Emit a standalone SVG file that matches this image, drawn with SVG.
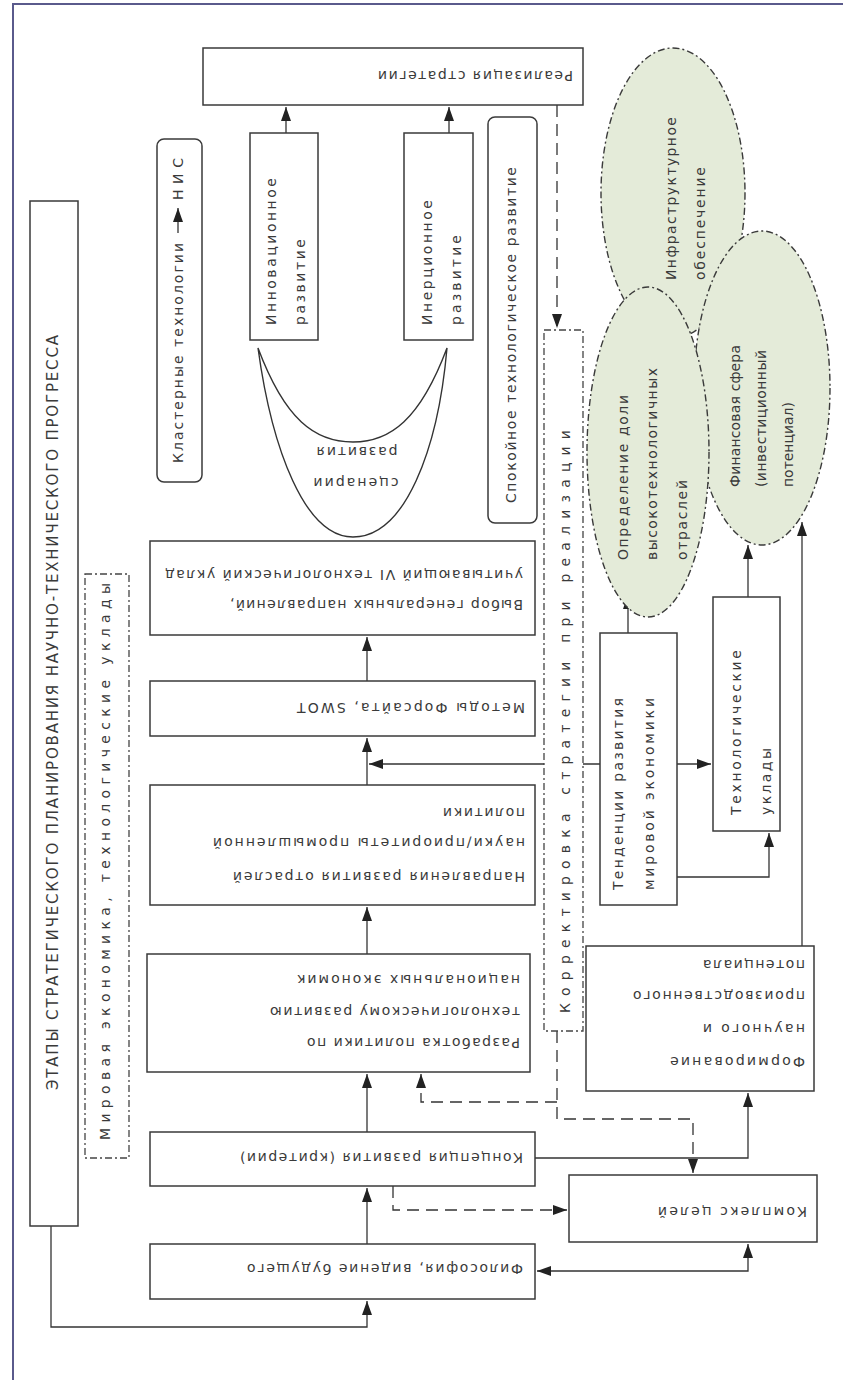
<svg xmlns="http://www.w3.org/2000/svg" width="843" height="1380" viewBox="0 0 843 1380">
<style>
.box{fill:#fff;stroke:#3a3a3a;stroke-width:1.5}
.dd{fill:#fff;stroke:#444;stroke-width:1.3;stroke-dasharray:7 3 2 3}
.ell{fill:#e4ebd9;stroke:#3a3a3a;stroke-width:1.4;stroke-dasharray:7 3 2 3}
.ln{fill:none;stroke:#333;stroke-width:1.3}
.dash{fill:none;stroke:#333;stroke-width:1.3;stroke-dasharray:12 7}
text{font-family:"DejaVu Sans","Liberation Sans",sans-serif;font-size:14px;fill:#3a3a3a;dominant-baseline:central}
.title{font-size:15px}
</style>
<defs>
<marker id="arr" markerUnits="userSpaceOnUse" markerWidth="14" markerHeight="10" refX="14" refY="5" orient="auto-start-reverse">
<path d="M0,0 L14,5 L0,10 z" fill="#222"/>
</marker>
</defs>
<rect width="843" height="1380" fill="#fff"/>
<path d="M13,1380 V4 H843" fill="none" stroke="#5a5a8c" stroke-width="2"/>

<g id="connectors">
<path class="ln" d="M51,1226 V1327 H367 V1301" marker-end="url(#arr)"/>
<path class="ln" d="M367,1244 V1188" marker-end="url(#arr)"/>
<path class="ln" d="M367,1132 V1074" marker-end="url(#arr)"/>
<path class="ln" d="M367,954 V907" marker-end="url(#arr)"/>
<path class="ln" d="M367,785 V738" marker-end="url(#arr)"/>
<path class="ln" d="M367,681 V637" marker-end="url(#arr)"/>
<path class="ln" d="M286,133 V107" marker-end="url(#arr)"/>
<path class="ln" d="M449,133 V107" marker-end="url(#arr)"/>
<path class="ln" d="M600,764 H369" marker-end="url(#arr)"/>
<path class="ln" d="M677,764 H711" marker-end="url(#arr)"/>
<path class="ln" d="M677,877 H769 V833" marker-end="url(#arr)"/>
<path class="ln" d="M628,633 V595" marker-end="url(#arr)"/>
<path class="ln" d="M748,597 V545" marker-end="url(#arr)"/>
<path class="ln" d="M802,946 V522" marker-end="url(#arr)"/>
<path class="ln" d="M535,1158 H748 V1093" marker-end="url(#arr)"/>
<path class="ln" d="M748,1244 V1271 H537" marker-start="url(#arr)" marker-end="url(#arr)"/>
<path class="dash" d="M557,105 V328" marker-end="url(#arr)"/>
<path class="dash" d="M557,1031 V1119 H693 V1173" marker-end="url(#arr)"/>
<path class="dash" d="M557,1102 H421 V1074" marker-end="url(#arr)"/>
<path class="dash" d="M393,1186 V1210 H567" marker-end="url(#arr)"/>
</g>

<g id="title">
<rect class="box" x="30" y="201" width="48" height="1025"/>
<text class="title" transform="translate(53,712.5) rotate(-90)" text-anchor="middle" textLength="755" lengthAdjust="spacing">ЭТАПЫ СТРАТЕГИЧЕСКОГО ПЛАНИРОВАНИЯ НАУЧНО-ТЕХНИЧЕСКОГО ПРОГРЕССА</text>
</g>

<g id="world">
<rect class="dd" x="85" y="574" width="44" height="584"/>
<text transform="translate(105,1140) rotate(-90)" textLength="557" lengthAdjust="spacing">Мировая экономика, технологические уклады</text>
</g>

<g id="cluster">
<rect class="box" x="157" y="139" width="45" height="343" rx="7"/>
<text transform="translate(178,463) rotate(-90)" textLength="220" lengthAdjust="spacing">Кластерные технологии</text>
<path class="ln" d="M178,233 V208" marker-end="url(#arr)"/>
<text transform="translate(178,200) rotate(-90)" textLength="42" lengthAdjust="spacing">НИС</text>
</g>

<g id="realization">
<rect class="box" x="203" y="48" width="380" height="57"/>
<text transform="translate(573,76) rotate(180)" textLength="195" lengthAdjust="spacing">Реализация стратегии</text>
</g>

<g id="innov">
<rect class="box" x="250" y="133" width="68" height="207"/>
<text transform="translate(271,325) rotate(-90)" textLength="147" lengthAdjust="spacing">Инновационное</text>
<text transform="translate(300,325) rotate(-90)" textLength="86" lengthAdjust="spacing">развитие</text>
</g>

<g id="inert">
<rect class="box" x="404" y="133" width="69" height="207"/>
<text transform="translate(427,325) rotate(-90)" textLength="125" lengthAdjust="spacing">Инерционное</text>
<text transform="translate(456,325) rotate(-90)" textLength="90" lengthAdjust="spacing">развитие</text>
</g>

<g id="scenarios">
<path d="M258,348 C272,450 305,537 353,537 C405,537 438,450 447,348 C420,420 390,442 353,442 C315,442 285,420 258,348 z" fill="#fff" stroke="#333" stroke-width="1.4"/>
<text transform="translate(356,483) rotate(180)" text-anchor="middle" textLength="85" lengthAdjust="spacing">сценарии</text>
<text transform="translate(357,452) rotate(180)" text-anchor="middle" textLength="81" lengthAdjust="spacing">развития</text>
</g>

<g id="calm">
<rect class="box" x="488" y="117" width="49" height="406" rx="7"/>
<text transform="translate(511,503) rotate(-90)" textLength="336" lengthAdjust="spacing">Спокойное технологическое развитие</text>
</g>

<g id="choice">
<rect class="box" x="150" y="541" width="385" height="94"/>
<text transform="translate(523,605) rotate(180)" textLength="293" lengthAdjust="spacing">Выбор генеральных направлений,</text>
<text transform="translate(523,575) rotate(180)" textLength="358" lengthAdjust="spacing">учитывающий VI технологический уклад</text>
</g>

<g id="foresight">
<rect class="box" x="150" y="681" width="385" height="55"/>
<text transform="translate(525,708) rotate(180)" textLength="228" lengthAdjust="spacing">Методы Форсайта, SWOT</text>
</g>

<g id="directions">
<rect class="box" x="150" y="785" width="385" height="120"/>
<text transform="translate(525,877) rotate(180)" textLength="292" lengthAdjust="spacing">Направления развития отраслей</text>
<text transform="translate(525,843) rotate(180)" textLength="312" lengthAdjust="spacing">науки/приоритеты промышленной</text>
<text transform="translate(525,813) rotate(180)" textLength="82" lengthAdjust="spacing">политики</text>
</g>

<g id="policy">
<rect class="box" x="147" y="954" width="383" height="118"/>
<text transform="translate(520,1043) rotate(180)" textLength="213" lengthAdjust="spacing">Разработка политики по</text>
<text transform="translate(520,1012) rotate(180)" textLength="250" lengthAdjust="spacing">технологическому развитию</text>
<text transform="translate(520,980) rotate(180)" textLength="223" lengthAdjust="spacing">национальных экономик</text>
</g>

<g id="concept">
<rect class="box" x="150" y="1132" width="385" height="54"/>
<text transform="translate(523,1158) rotate(180)" textLength="283" lengthAdjust="spacing">Концепция развития (критерии)</text>
</g>

<g id="philosophy">
<rect class="box" x="150" y="1244" width="385" height="55"/>
<text transform="translate(523,1269) rotate(180)" textLength="276" lengthAdjust="spacing">Философия, видение будущего</text>
</g>

<g id="correction">
<rect class="dd" x="544" y="330" width="39" height="701"/>
<text transform="translate(565,1013) rotate(-90)" textLength="583" lengthAdjust="spacing">Корректировка стратегии при реализации</text>
</g>

<g id="infra">
<ellipse class="ell" cx="673" cy="193" rx="72" ry="145"/>
<text transform="translate(671,280) rotate(-90)" textLength="163" lengthAdjust="spacing">Инфраструктурное</text>
<text transform="translate(700,280) rotate(-90)" textLength="113" lengthAdjust="spacing">обеспечение</text>
</g>

<g id="finance">
<ellipse class="ell" cx="762" cy="388" rx="68" ry="157"/>
<text transform="translate(735,487) rotate(-90)" textLength="142" lengthAdjust="spacing">Финансовая сфера</text>
<text transform="translate(761,487) rotate(-90)" textLength="137" lengthAdjust="spacing">(инвестиционный</text>
<text transform="translate(788,487) rotate(-90)" textLength="85" lengthAdjust="spacing">потенциал)</text>
</g>

<g id="share">
<ellipse class="ell" cx="648" cy="452" rx="61" ry="165"/>
<text transform="translate(623,560) rotate(-90)" textLength="165" lengthAdjust="spacing">Определение доли</text>
<text transform="translate(652,560) rotate(-90)" textLength="192" lengthAdjust="spacing">высокотехнологичных</text>
<text transform="translate(682,560) rotate(-90)" textLength="80" lengthAdjust="spacing">отраслей</text>
</g>

<g id="trends">
<rect class="box" x="600" y="633" width="77" height="272"/>
<text transform="translate(618,890) rotate(-90)" textLength="192" lengthAdjust="spacing">Тенденции развития</text>
<text transform="translate(649,890) rotate(-90)" textLength="192" lengthAdjust="spacing">мировой экономики</text>
</g>

<g id="techorders">
<rect class="box" x="713" y="597" width="67" height="234"/>
<text transform="translate(736,815) rotate(-90)" textLength="165" lengthAdjust="spacing">Технологические</text>
<text transform="translate(766,815) rotate(-90)" textLength="67" lengthAdjust="spacing">уклады</text>
</g>

<g id="potential">
<rect class="box" x="586" y="946" width="228" height="145"/>
<text transform="translate(805,1062) rotate(180)" textLength="135" lengthAdjust="spacing">Формирование</text>
<text transform="translate(805,1029) rotate(180)" textLength="102" lengthAdjust="spacing">научного  и</text>
<text transform="translate(805,996) rotate(180)" textLength="172" lengthAdjust="spacing">производственного</text>
<text transform="translate(805,965) rotate(180)" textLength="102" lengthAdjust="spacing">потенциала</text>
</g>

<g id="goals">
<rect class="box" x="569" y="1175" width="248" height="67"/>
<text transform="translate(807,1212) rotate(180)" textLength="149" lengthAdjust="spacing">Комплекс  целей</text>
</g>
</svg>
